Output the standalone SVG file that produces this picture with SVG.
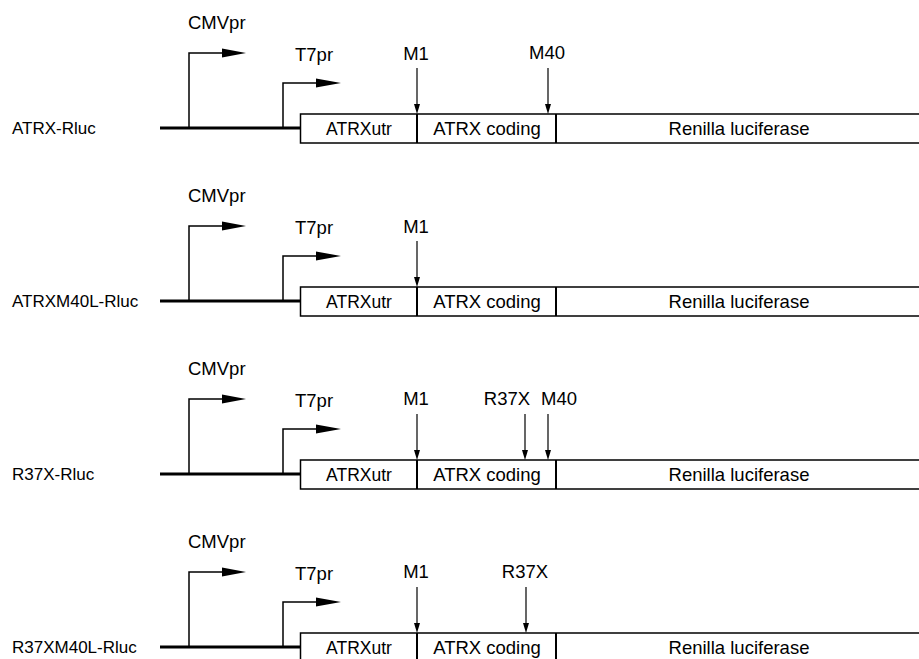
<svg xmlns="http://www.w3.org/2000/svg" width="919" height="659" viewBox="0 0 919 659">
<defs>
<style>
text{font-family:"Liberation Sans",Arial,sans-serif;font-size:18.5px;fill:#000}
.lbl{font-size:17px}
.utr{font-size:17.5px}
.mid{text-anchor:middle}
.dna{stroke:#000;stroke-width:3;fill:none}
.pr{stroke:#000;stroke-width:1.5;fill:none}
.box{stroke:#000;stroke-width:1.5;fill:#fff}
.div{stroke:#000;stroke-width:2}
.site{stroke:#000;stroke-width:1.2}
.head{fill:#000}
</style>
<g id="construct">
<line class="dna" x1="160" y1="0" x2="301" y2="0"/>
<polyline class="pr" points="189,0 189,-75 224,-75"/>
<polygon class="head" points="222,-79.5 246,-75 222,-70.5"/>
<polyline class="pr" points="283,0 283,-45 318,-45"/>
<polygon class="head" points="316,-49.5 341,-45 316,-40.5"/>
<text x="188" y="-99">CMVpr</text>
<text x="295" y="-67">T7pr</text>
<rect class="box" x="300.5" y="-14" width="630" height="29"/>
<line class="div" x1="417" y1="-14" x2="417" y2="15"/>
<line class="div" x1="556" y1="-14" x2="556" y2="15"/>
<text class="mid utr" x="359" y="7">ATRXutr</text>
<text class="mid" x="487" y="7">ATRX coding</text>
<text class="mid" x="739" y="7">Renilla luciferase</text>
</g>
<g id="site">
<line class="site" x1="0" y1="-60" x2="0" y2="-22"/>
<polygon class="head" points="-3,-24 3,-24 0,-14"/>
</g>
</defs>
<g id="row1-ATRX-Rluc">
<text class="lbl" x="12" y="134">ATRX-Rluc</text>
<use href="#construct" x="0" y="128"/>
<use href="#site" x="417" y="128"/>
<use href="#site" x="548" y="128"/>
<text class="mid" x="416" y="60">M1</text>
<text class="mid" x="547" y="59">M40</text>
</g>
<g id="row2-ATRXM40L-Rluc">
<text class="lbl" x="12" y="307">ATRXM40L-Rluc</text>
<use href="#construct" x="0" y="301"/>
<use href="#site" x="417" y="301"/>
<text class="mid" x="416" y="233">M1</text>
</g>
<g id="row3-R37X-Rluc">
<text class="lbl" x="12" y="480">R37X-Rluc</text>
<use href="#construct" x="0" y="474"/>
<use href="#site" x="417" y="474"/>
<use href="#site" x="525" y="474"/>
<use href="#site" x="548" y="474"/>
<text class="mid" x="416" y="405">M1</text>
<text class="mid" x="507" y="405">R37X</text>
<text class="mid" x="559" y="405">M40</text>
</g>
<g id="row4-R37XM40L-Rluc">
<text class="lbl" x="12" y="653">R37XM40L-Rluc</text>
<use href="#construct" x="0" y="647"/>
<use href="#site" x="417" y="647"/>
<use href="#site" x="526" y="647"/>
<text class="mid" x="416" y="578">M1</text>
<text class="mid" x="525" y="578">R37X</text>
</g>
</svg>
